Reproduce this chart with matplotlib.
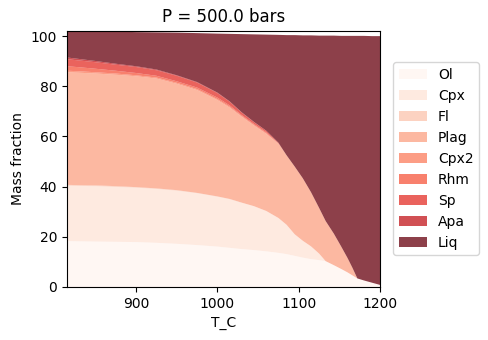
import numpy as np
import matplotlib
matplotlib.use("Agg")
import matplotlib.pyplot as plt

T_C = [815, 830, 850, 875, 900, 925, 950, 975, 1000, 1015, 1030, 1045, 1060, 1075,
       1085, 1095, 1105, 1115, 1125, 1133, 1143, 1152, 1160, 1166, 1172, 1180, 1190, 1200]

Ol = [18.3, 18.2, 18.1, 18.0, 17.9, 17.6, 17.2, 16.7, 16.1, 15.6, 15.1, 14.7, 14.2, 13.6,
      13.1, 12.4, 11.7, 11.1, 10.7, 10.3, 8.7, 7.2, 5.8, 4.6, 3.4, 2.6, 1.7, 0.8]
Cpx = [22.1, 22.1, 22.1, 21.9, 21.7, 21.5, 21.2, 20.7, 19.9, 19.4, 18.5, 17.5, 16.1, 13.9,
       11.7, 8.6, 6.7, 5.1, 2.6, 0, 0, 0, 0, 0, 0, 0, 0, 0]
Fl = [0.3, 0.3, 0.3, 0.3, 0.2, 0.2, 0.2, 0.1, 0.1, 0.1, 0, 0, 0, 0,
      0, 0, 0, 0, 0, 0, 0, 0, 0, 0, 0, 0, 0, 0]
Plag = [44.9, 44.8, 44.6, 44.4, 44.2, 43.8, 42.4, 41.0, 38.4, 36.4, 34.2, 32.1, 30.7, 29.5,
        27.7, 27.0, 24.9, 21.6, 18.2, 16.0, 12.6, 9.0, 5.7, 3.0, 0, 0, 0, 0]
Cpx2 = [0.6, 0.6, 0.5, 0.5, 0.4, 0.4, 0.4, 0.4, 0.4, 0.4, 0.3, 0.3, 0.3, 0.2,
        0, 0, 0, 0, 0, 0, 0, 0, 0, 0, 0, 0, 0, 0]
Rhm = [1.8, 1.6, 1.4, 1.1, 0.9, 0.7, 0.6, 0.6, 0.6, 0.5, 0.4, 0.4, 0.4, 0.2,
       0, 0, 0, 0, 0, 0, 0, 0, 0, 0, 0, 0, 0, 0]
Sp = [2.8, 2.7, 2.6, 2.4, 2.4, 2.2, 2.2, 2.0, 1.8, 1.5, 1.0, 0.7, 0.6, 0.1,
      0, 0, 0, 0, 0, 0, 0, 0, 0, 0, 0, 0, 0, 0]
Apa = [0.7, 0.6, 0.5, 0.4, 0.3, 0.3, 0.2, 0.2, 0.2, 0.1, 0.1, 0.1, 0, 0,
       0, 0, 0, 0, 0, 0, 0, 0, 0, 0, 0, 0, 0, 0]
Liq = [10.7, 11.2, 11.9, 12.8, 13.6, 14.8, 17.0, 19.5, 23.5, 26.9, 31.2, 34.9, 38.3, 43.0,
       47.9, 52.4, 57.0, 62.5, 68.7, 73.9, 78.9, 83.9, 88.6, 92.5, 96.7, 97.5, 98.3, 99.2]

phase_names = ["Ol", "Cpx", "Fl", "Plag", "Cpx2", "Rhm", "Sp", "Apa", "Liq"]
series = [Ol, Cpx, Fl, Plag, Cpx2, Rhm, Sp, Apa, Liq]
cmap_positions = [0, 1/9, 2/9, 3/9, 4/9, 5/9, 6/9, 7/9, 1.0]

fig = plt.figure(figsize=(4.88, 3.40), dpi=100)
ax = fig.add_axes([0.137, 0.156, 0.642, 0.754])
colors = plt.cm.Reds(cmap_positions)
ax.stackplot(T_C, *series, labels=phase_names, colors=colors, alpha=0.75, linewidth=0)

totals = np.sum(np.array(series), axis=0)
ax.set_xlim(min(T_C), max(T_C))
ax.set_ylim(0, totals.max())
ax.set_xticks([900, 1000, 1100, 1200])
ax.set_yticks([0, 20, 40, 60, 80, 100])
ax.set_xlabel("T_C")
ax.set_ylabel("Mass fraction")
ax.set_title("P = 500.0 bars")
ax.legend(loc="center left", bbox_to_anchor=(1.02, 0.5))

fig.savefig("out.png", dpi=100)
